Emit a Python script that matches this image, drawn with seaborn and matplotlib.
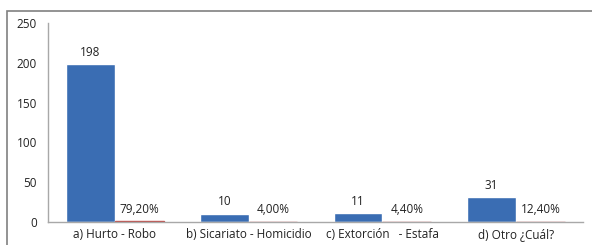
import matplotlib
matplotlib.use("Agg")
import matplotlib.pyplot as plt
import seaborn as sns
import pandas as pd
from matplotlib.patches import Rectangle

categories = ["a) Hurto - Robo", "b) Sicariato - Homicidio",
              "c) Extorción   - Estafa", "d) Otro ¿Cuál?"]
counts = [198, 10, 11, 31]
percents = [0.792, 0.04, 0.044, 0.124]
count_labels = ["198", "10", "11", "31"]
percent_labels = ["79,20%", "4,00%", "4,40%", "12,40%"]

df = pd.DataFrame({
    "categoria": categories * 2,
    "valor": counts + percents,
    "serie": ["Frecuencia"] * 4 + ["Porcentaje"] * 4,
})

sns.set_style("white")
plt.rcParams["font.family"] = ["Open Sans", "DejaVu Sans"]

fig = plt.figure(figsize=(5.92, 2.45), dpi=100)
ax = fig.add_axes([48 / 592, 1 - 222 / 245, (583 - 48) / 592, (222 - 23) / 245])

sns.barplot(data=df, x="categoria", y="valor", hue="serie",
            palette=["#3A6DB3", "#C0504D"], width=0.73, gap=0,
            saturation=1, legend=False, ax=ax)

# the percentage bars are tiny on this scale: give them a visible red edge
for bar in ax.containers[1]:
    bar.set_edgecolor("#C0504D")
    bar.set_linewidth(1.0)

for container, labels in zip(ax.containers, [count_labels, percent_labels]):
    ax.bar_label(container, labels=labels, padding=4, fontsize=8.5, color="#222222")

ax.set_ylim(0, 250)
ax.set_yticks([0, 50, 100, 150, 200, 250])
ax.set_xlabel("")
ax.set_ylabel("")
ax.tick_params(axis="both", length=0, labelsize=8.5, colors="#222222")
ax.tick_params(axis="y", pad=8)
ax.tick_params(axis="x", pad=4)
for side in ["top", "right"]:
    ax.spines[side].set_visible(False)
for side in ["left", "bottom"]:
    ax.spines[side].set_color("#A8A8A8")
    ax.spines[side].set_linewidth(1)

fig.patches.append(Rectangle((7 / 592, -0.05), 1.1, 1.05 - 11 / 245,
                             transform=fig.transFigure, fill=False,
                             edgecolor="#808080", linewidth=1.2))

fig.savefig("out.png", dpi=100)
